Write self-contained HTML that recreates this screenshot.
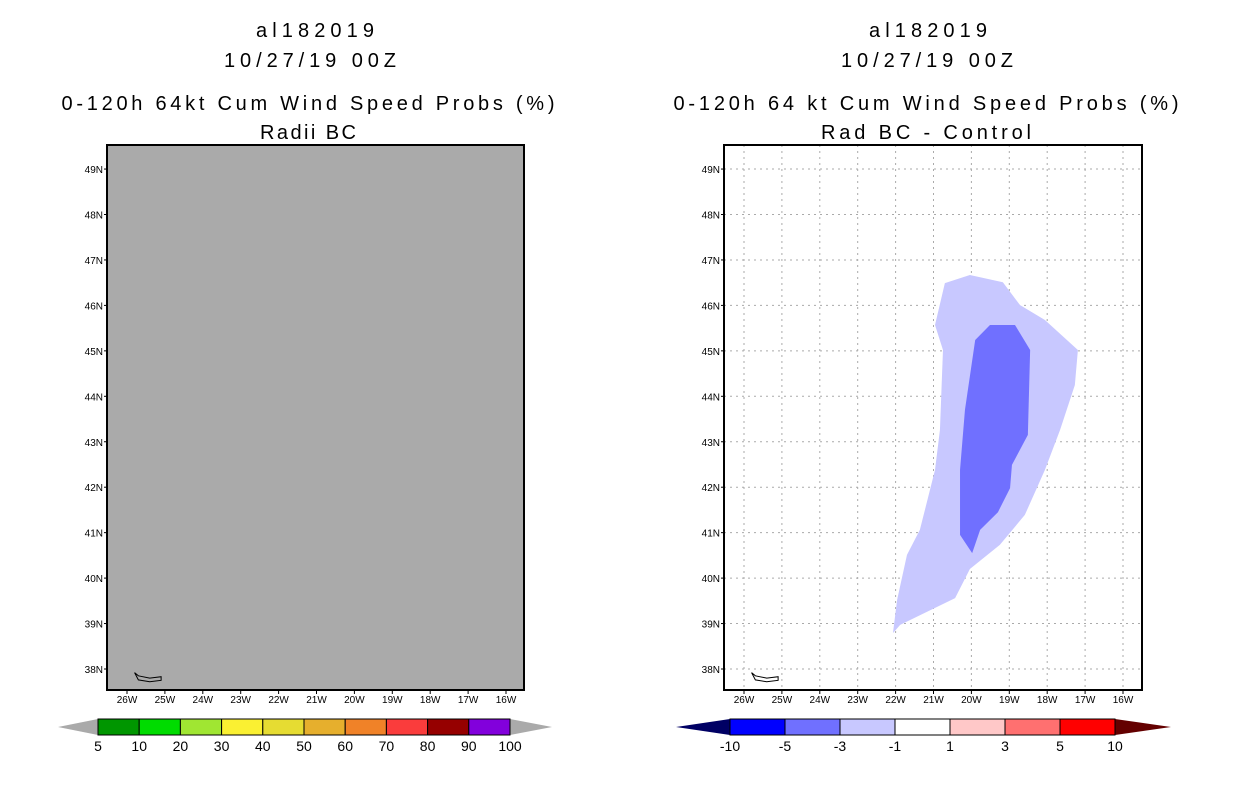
<!DOCTYPE html>
<html><head><meta charset="utf-8"><style>
html,body{margin:0;padding:0;background:#fff;}
svg{display:block;font-family:"Liberation Sans",sans-serif;}
</style></head><body>
<svg id="c" width="1236" height="800" viewBox="0 0 1236 800" xmlns="http://www.w3.org/2000/svg">
<g id="titles">
<text x="315" y="37" font-size="20" text-anchor="middle" textLength="118">al182019</text>
<text x="310" y="67" font-size="20" text-anchor="middle" textLength="172">10/27/19 00Z</text>
<text x="308" y="110" font-size="20" text-anchor="middle" textLength="493">0-120h 64kt Cum Wind Speed Probs (%)</text>
<text x="308" y="139" font-size="20" text-anchor="middle" textLength="96">Radii BC</text>
<text x="928" y="37" font-size="20" text-anchor="middle" textLength="118">al182019</text>
<text x="927" y="67" font-size="20" text-anchor="middle" textLength="172">10/27/19 00Z</text>
<text x="926" y="110" font-size="20" text-anchor="middle" textLength="505">0-120h 64 kt Cum Wind Speed Probs (%)</text>
<text x="926" y="139" font-size="20" text-anchor="middle" textLength="210">Rad BC - Control</text>
</g>
<g id="left"></g>
<g id="right"></g>
<g id="cbl"></g>
<g id="cbr"></g>
</svg>
<script>
const lonTicks=[-26,-25,-24,-23,-22,-21,-20,-19,-18,-17,-16];
const latTicks=[38,39,40,41,42,43,44,45,46,47,48,49];
const lightLon=[-22.07,-21.96,-21.70,-21.36,-20.96,-20.83,-20.75,-20.96,-20.70,-20.04,-19.17,-18.72,-18.06,-17.19,-17.27,-17.66,-18.06,-18.59,-19.25,-20.04,-20.43,-21.88];
const lightLat=[38.79,39.52,40.51,41.06,42.38,43.26,45.02,45.57,46.49,46.67,46.51,46.01,45.68,45.02,44.25,43.26,42.38,41.39,40.73,40.20,39.56,38.97];
const darkLon=[-20.30,-19.98,-19.77,-19.30,-18.98,-18.93,-18.51,-18.45,-18.85,-19.51,-19.90,-20.17,-20.30];
const darkLat=[40.95,40.55,41.06,41.45,41.98,42.49,43.15,45.02,45.57,45.57,45.24,43.70,42.38];
const islandLon=[-25.8,-25.7,-25.4,-25.1,-25.1,-25.4,-25.7];
const islandLat=[37.92,37.85,37.80,37.83,37.75,37.72,37.76];
const cbLeftLabels=["5","10","20","30","40","50","60","70","80","90","100"];
const cbLeftColors=["#009600","#00dc00","#a0e632","#faf032","#e6dc32","#e6af2d","#f08228","#fa3c3c","#960000","#8200dc"];
const cbRightLabels=["-10","-5","-3","-1","1","3","5","10"];
const cbRightColors=["#0000ff","#7070ff","#c8c8ff","#ffffff","#ffc8c8","#ff7070","#ff0000"];
const NS="http://www.w3.org/2000/svg";
function mk(p,t,a){const e=document.createElementNS(NS,t);for(const k in a)e.setAttribute(k,a[k]);p.appendChild(e);return e;}
function panel(gid,x0,frameL,frameR,bg,grid,prefix){
  const g=document.getElementById(gid);
  const X=lon=>x0+(lon+26)*37.9, Y=lat=>669-(lat-38)*45.45;
  const bgR=mk(g,'rect',{x:frameL,y:145,width:frameR-frameL,height:545,fill:bg});
  
  
  if(grid){
    lonTicks.forEach(l=>{const e=mk(g,'line',{x1:X(l),x2:X(l),y1:145,y2:690,stroke:'#aaa','stroke-dasharray':'2,4'});
      
      });
    latTicks.forEach(l=>{const e=mk(g,'line',{x1:frameL,x2:frameR,y1:Y(l),y2:Y(l),stroke:'#aaa','stroke-dasharray':'2,4'});
      
      });
    const p1=mk(g,'polygon',{points:lightLon.map((l,i)=>X(l)+','+Y(lightLat[i])).join(' '),fill:'#c8c8ff'});
    
    
    const p2=mk(g,'polygon',{points:darkLon.map((l,i)=>X(l)+','+Y(darkLat[i])).join(' '),fill:'#7070ff'});
    
    
  }
  const isl=mk(g,'polygon',{points:islandLon.map((l,i)=>X(l)+','+Y(islandLat[i])).join(' '),fill:'none',stroke:'#000','stroke-width':1});
  
  
  const fr=mk(g,'rect',{x:frameL,y:145,width:frameR-frameL,height:545,fill:'none',stroke:'#000','stroke-width':2});
  
  
  lonTicks.forEach(l=>{const t=mk(g,'text',{x:X(l),y:703,'font-size':10,'text-anchor':'middle'});t.textContent=Math.abs(l)+'W';
    
    
    mk(g,'line',{x1:X(l),x2:X(l),y1:690,y2:694,stroke:'#000'});});
  latTicks.forEach(l=>{const t=mk(g,'text',{x:frameL-4,y:Y(l)+4,'font-size':10,'text-anchor':'end'});t.textContent=l+'N';
    
    
    mk(g,'line',{x1:frameL-3,x2:frameL,y1:Y(l),y2:Y(l),stroke:'#000'});});
}
panel('left',127,107,524,'#aaaaaa',false,'left');
panel('right',744,724,1142,'#ffffff',true,'right');
function cbar(gid,colors,labels,x0,x1,tl,tr,lc,rc,tw){
  const g=document.getElementById(gid);
  const w=(x1-x0)/colors.length;
  const a=mk(g,'polygon',{points:`${tl},727 ${x0},719 ${x0},735`,fill:lc});
  
  
  const b=mk(g,'polygon',{points:`${tr},727 ${x1},719 ${x1},735`,fill:rc});
  
  
  colors.forEach((c,i)=>{const r=mk(g,'rect',{x:x0+i*w,y:719,width:w,height:16,fill:c,stroke:'#000','stroke-width':1});
    
    });
  labels.forEach((s,i)=>{const t=mk(g,'text',{x:x0+i*w,y:751,'font-size':14,'text-anchor':'middle'});t.textContent=s;
    
    });
}
cbar('cbl',cbLeftColors,cbLeftLabels,98,510,58,552,'#aaaaaa','#aaaaaa');
cbar('cbr',cbRightColors,cbRightLabels,730,1115,676,1171,'#000064','#640000');
</script>
</body></html>
